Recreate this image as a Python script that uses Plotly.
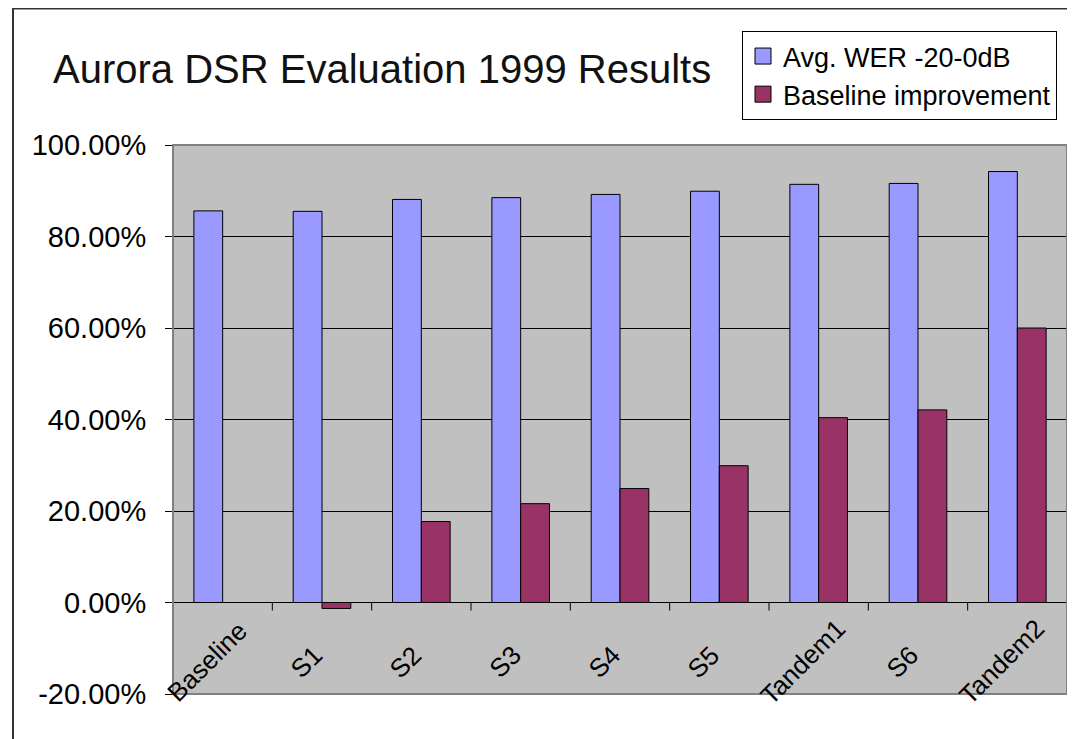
import plotly.graph_objects as go

categories = ["Baseline", "S1", "S2", "S3", "S4", "S5", "Tandem1", "S6", "Tandem2"]
avg_wer = [0.856, 0.855, 0.881, 0.885, 0.892, 0.899, 0.914, 0.916, 0.942]
improvement = [0.0, -0.013, 0.177, 0.216, 0.249, 0.299, 0.404, 0.421, 0.600]
series_names = ["Avg. WER -20-0dB", "Baseline improvement"]
series_colors = ["#9999FF", "#993366"]
y_ticks = [-0.2, 0.0, 0.2, 0.4, 0.6, 0.8, 1.0]
y_tick_labels = ["-20.00%", "0.00%", "20.00%", "40.00%", "60.00%", "80.00%", "100.00%"]
title_text = "Aurora DSR Evaluation 1999 Results"

FONT = "Liberation Sans, Arial, sans-serif"

fig = go.Figure()
for vals, name, col in zip([avg_wer, improvement], series_names, series_colors):
    fig.add_trace(go.Bar(x=categories, y=vals, name=name, showlegend=False,
                         marker=dict(color=col, line=dict(color="black", width=1))))
# legend-only entries with larger square swatches
for name, col in zip(series_names, series_colors):
    fig.add_trace(go.Scatter(x=[None], y=[None], mode="markers", name=name,
                             marker=dict(symbol="square", size=16, color=col,
                                         line=dict(color="black", width=1))))

# page has an 8px body margin: figure coordinates = page coordinates - 8
OFF = 8
W, H = 1075 - OFF, 739 - OFF
L, R, T, B = 173 - OFF, 8, 145 - OFF, 45
pw, ph = W - L - R, H - T - B

shapes = []
# category boundary ticks along the zero line
for i in range(len(categories) + 1):
    shapes.append(dict(type="line", xref="x", yref="y", x0=i - 0.5, x1=i - 0.5,
                       ysizemode="pixel", yanchor=0, y0=0, y1=-8,
                       line=dict(color="black", width=1)))
# plot area gray border
shapes.append(dict(type="rect", xref="paper", yref="paper", x0=0, x1=1, y0=0, y1=1,
                   line=dict(color="#808080", width=2), layer="above"))
# outer chart frame
shapes.append(dict(type="rect", xref="paper", yref="paper",
                   x0=(5 - L) / pw, x1=(W + 10 - L) / pw,
                   y0=(H - B - (H + 10)) / ph, y1=(H - B - 0.5) / ph,
                   line=dict(color="#333333", width=2)))

annotations = []
for c in categories:
    annotations.append(dict(x=c, y=0, xref="x", yref="y", text=c, showarrow=False,
                            textangle=-45, xanchor="center", yanchor="middle",
                            xshift=-16, yshift=-59,
                            font=dict(family=FONT, size=26, color="black")))

fig.update_layout(
    width=W, height=H,
    margin=dict(l=L, r=R, t=T, b=B, pad=0, autoexpand=False),
    paper_bgcolor="white",
    plot_bgcolor="#C0C0C0",
    barmode="group", bargap=0.42, bargroupgap=0,
    title=dict(text=title_text, x=45 / W, xanchor="left", xref="container",
               y=1 - 61 / H, yanchor="middle", yref="container",
               font=dict(family=FONT, size=40, color="#111111")),
    font=dict(family=FONT, color="black"),
    showlegend=True,
    legend=dict(x=(742 - OFF - L) / pw, y=(H - B - (31 - OFF)) / ph,
                xanchor="left", yanchor="top",
                bgcolor="white", bordercolor="black", borderwidth=1,
                font=dict(family=FONT, size=27, color="black"),
                tracegroupgap=0, itemsizing="trace", itemwidth=30),
    xaxis=dict(showticklabels=False, ticks="", showgrid=False, showline=False,
               zeroline=False, range=[-0.5, len(categories) - 0.5]),
    yaxis=dict(range=[-0.2, 1.0], tickvals=y_ticks, ticktext=y_tick_labels,
               ticks="outside", ticklen=7, tickcolor="black", tickwidth=1,
               ticklabelstandoff=13,
               showline=True, linecolor="black", linewidth=1,
               showgrid=True, gridcolor="black", gridwidth=1,
               zeroline=True, zerolinecolor="black", zerolinewidth=1,
               tickfont=dict(family=FONT, size=29, color="black")),
    shapes=shapes,
    annotations=annotations,
)

fig.write_html("out.html")
